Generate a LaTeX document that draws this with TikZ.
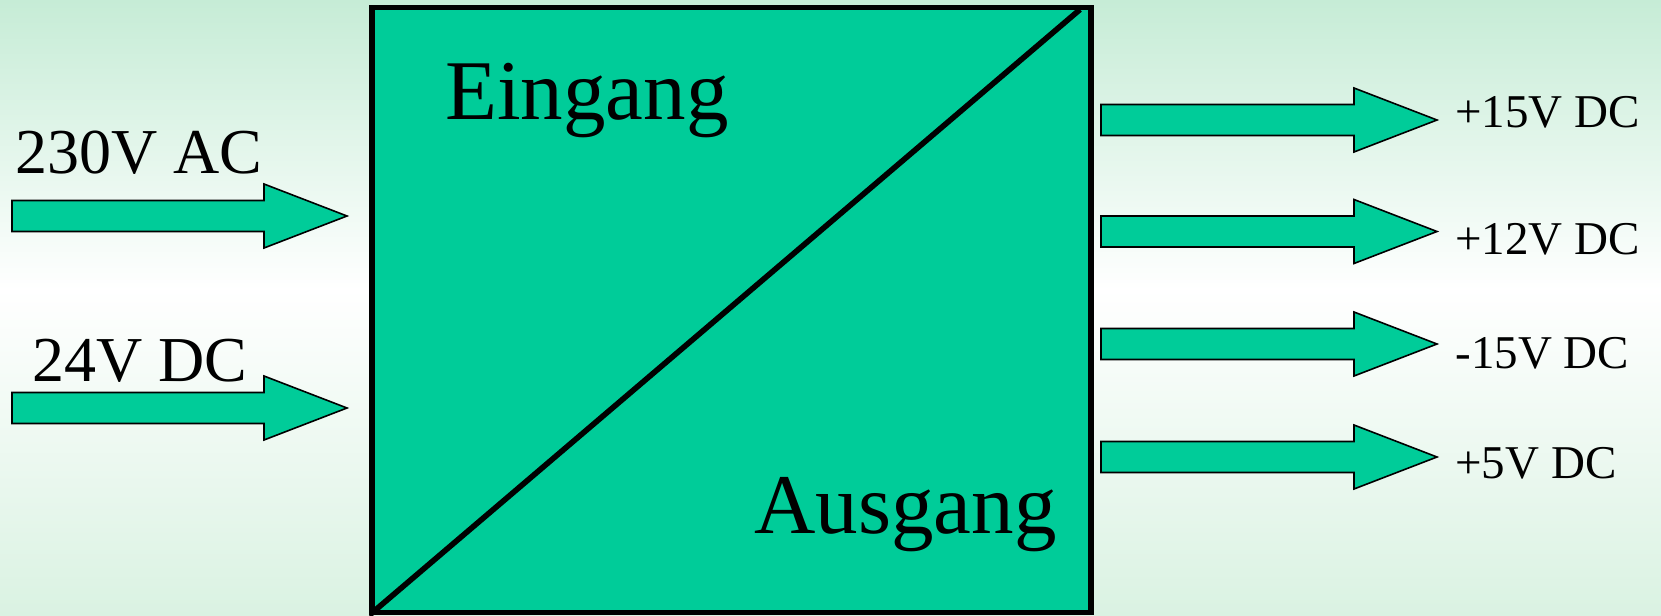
\documentclass[tikz,border=0pt]{standalone}
\usepackage{fontspec}
\setmainfont{Liberation Serif}
\definecolor{boxfill}{RGB}{0,204,153}
\definecolor{bgtop}{RGB}{198,236,214}
\definecolor{bgbot}{RGB}{218,242,226}
\newcommand\blkarrow[4]{% x0, x1(head base), x2(tip), yc
  \filldraw[blockarrow] (#1,#4-15.5) -- (#2,#4-15.5) -- (#2,#4-32) -- (#3,#4)
    -- (#2,#4+32) -- (#2,#4+15.5) -- (#1,#4+15.5) -- cycle;}
\tikzset{
  blockarrow/.style={fill=boxfill, draw=black, line width=0.8pt, line join=miter},
  biglabel/.style={inner sep=0pt, anchor=base west, font=\fontsize{42.5}{50}\selectfont},
  inlabel/.style={inner sep=0pt, anchor=base west, font=\fontsize{32}{38}\selectfont},
  outlabel/.style={inner sep=0pt, anchor=base west, font=\fontsize{23.5}{28}\selectfont},
  conv/.style={rectangle, draw=black, fill=boxfill, line width=2.8pt, inner sep=0pt,
    minimum width=359.5pt, minimum height=302.5pt},
}
\begin{document}
\begin{tikzpicture}[x=0.5pt, y=-0.5pt]
\useasboundingbox (0,0) rectangle (1661,616);
\shade[top color=bgtop, bottom color=white] (0,0) rectangle (1661,290);
\shade[top color=white, bottom color=bgbot] (0,289) rectangle (1661,616);
% converter block
\node[conv] (box) at (731.5,310) {};
\coordinate (dtop) at (1080,9.5);
\begin{scope}
  \clip (box.south west) rectangle (box.north east);
  \draw[line width=2.8pt] (box.south west) -- (dtop);
\end{scope}
\node[biglabel] (ein) at (445,119) {Eingang};
\node[biglabel] (aus) at (754,533) {Ausgang};
% inputs
\blkarrow{12}{264}{347}{216}
\blkarrow{12}{264}{347}{408}
\node[inlabel] (in1) at (15,173) {230V AC};
\node[inlabel] (in2) at (32,381) {24V DC};
% outputs
\blkarrow{1101}{1354}{1437}{120}
\blkarrow{1101}{1354}{1437}{231.5}
\blkarrow{1101}{1354}{1437}{344}
\blkarrow{1101}{1354}{1437}{457}
\node[outlabel] (o1) at (1455,127) {+15V DC};
\node[outlabel] (o2) at (1455,254) {+12V DC};
\node[outlabel] (o3) at (1455,368) {-15V DC};
\node[outlabel] (o4) at (1455,478) {+5V DC};
\end{tikzpicture}
\end{document}
